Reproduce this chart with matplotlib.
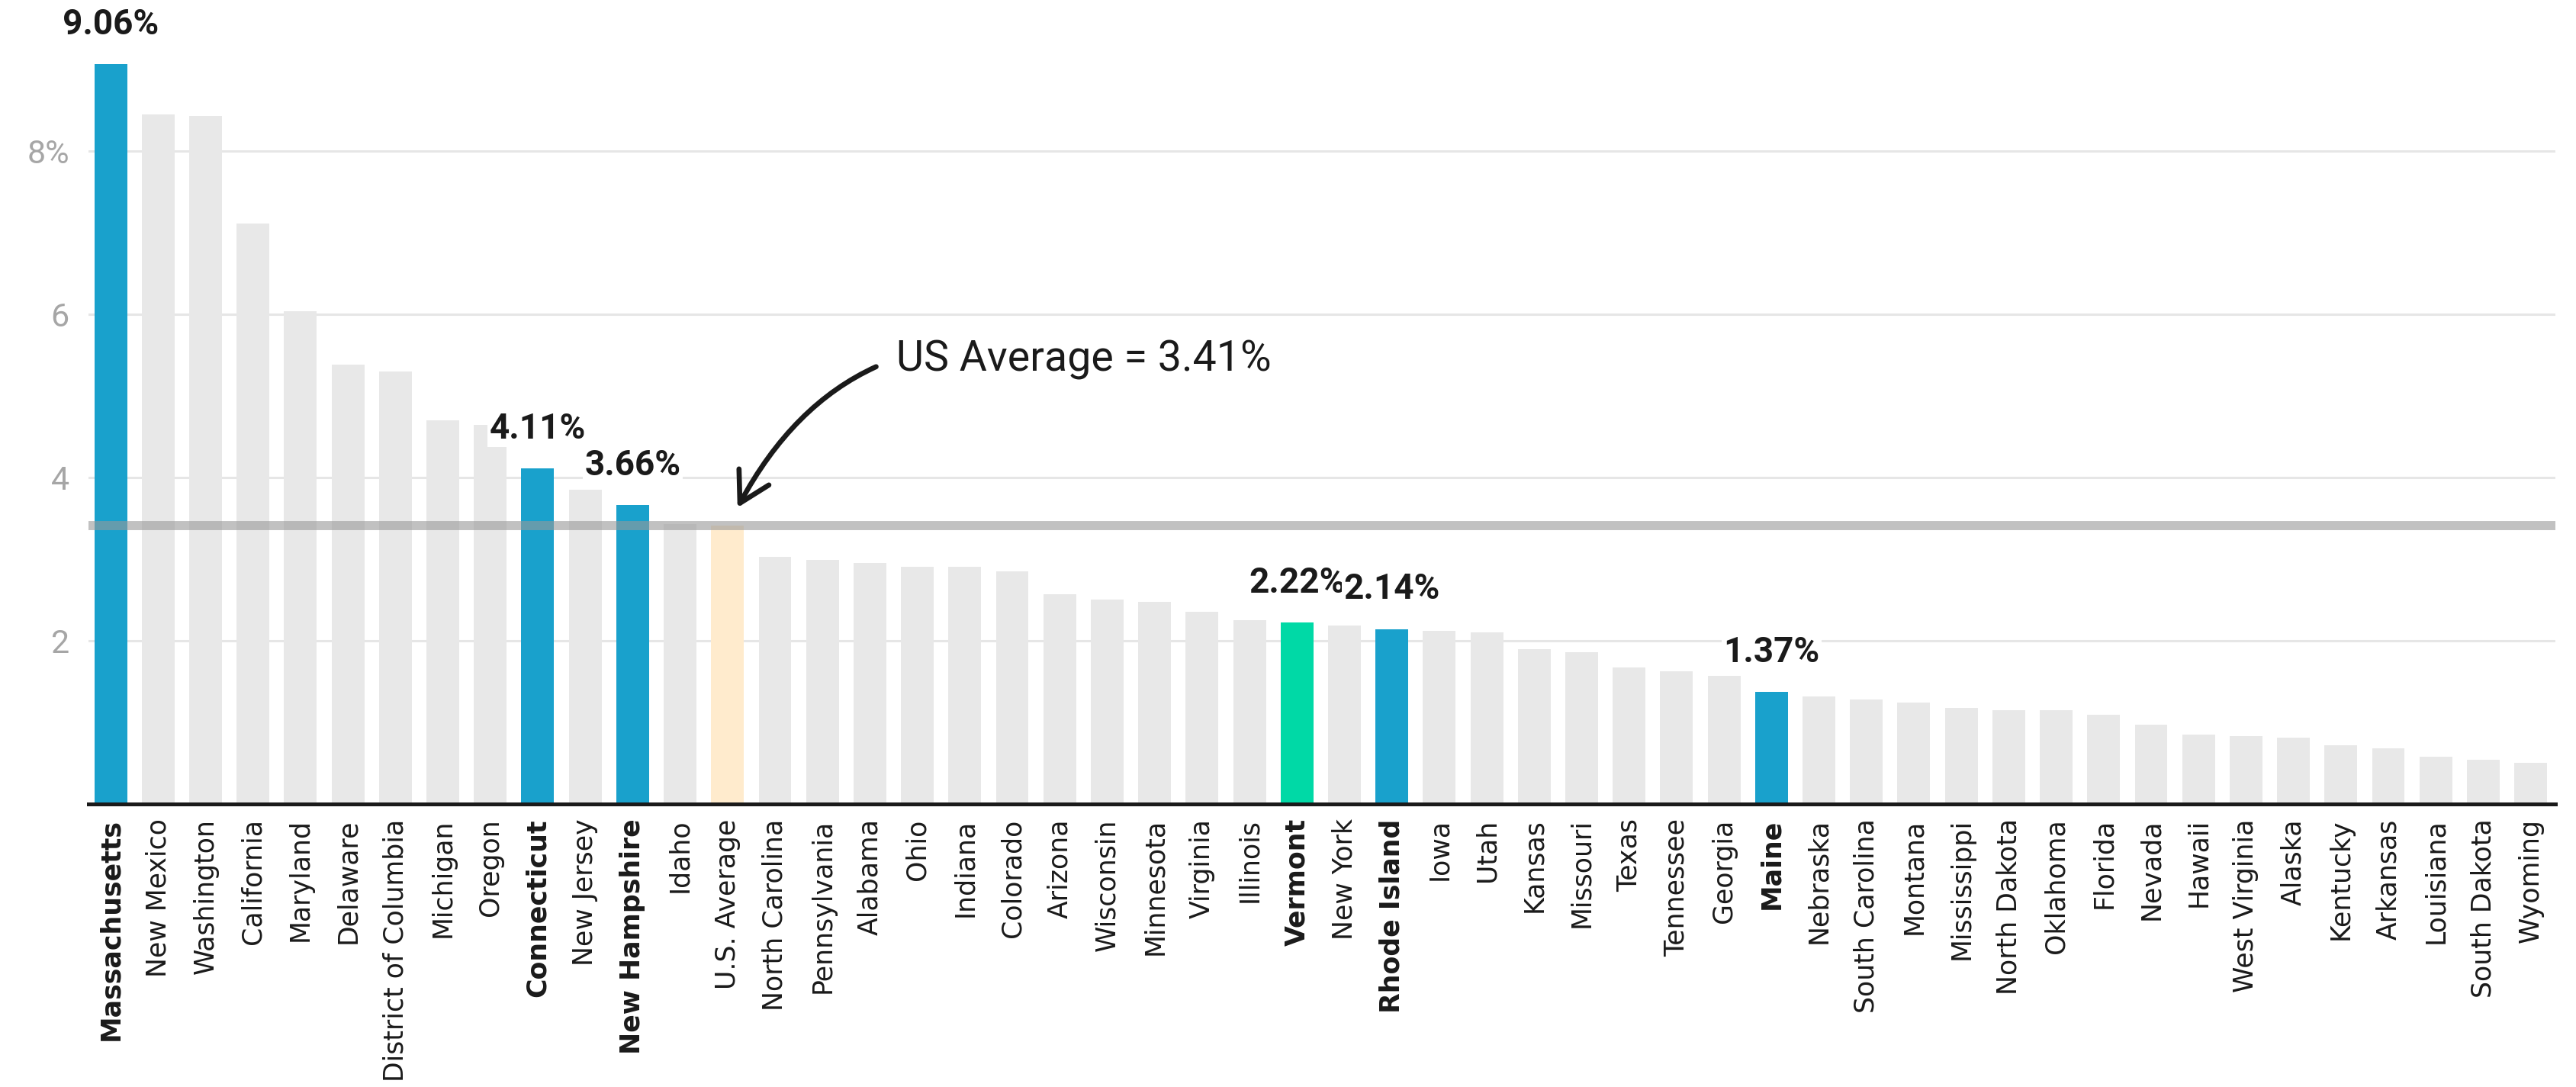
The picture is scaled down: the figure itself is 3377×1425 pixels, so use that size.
import numpy as np
import matplotlib.pyplot as plt

plt.rcParams['font.family'] = 'DejaVu Sans'

# Data
states = ['Massachusetts', 'New Mexico', 'Washington', 'California', 'Maryland',
          'Delaware', 'District of Columbia', 'Michigan', 'Oregon', 'Connecticut',
          'New Jersey', 'New Hampshire', 'Idaho', 'U.S. Average', 'North Carolina',
          'Pennsylvania', 'Alabama', 'Ohio', 'Indiana', 'Colorado', 'Arizona',
          'Wisconsin', 'Minnesota', 'Virginia', 'Illinois', 'Vermont', 'New York',
          'Rhode Island', 'Iowa', 'Utah', 'Kansas', 'Missouri', 'Texas', 'Tennessee',
          'Georgia', 'Maine', 'Nebraska', 'South Carolina', 'Montana', 'Mississippi',
          'North Dakota', 'Oklahoma', 'Florida', 'Nevada', 'Hawaii', 'West Virginia',
          'Alaska', 'Kentucky', 'Arkansas', 'Louisiana', 'South Dakota', 'Wyoming']
values = [9.06, 8.45, 8.43, 7.11, 6.04,
          5.38, 5.30, 4.70, 4.64, 4.11,
          3.85, 3.66, 3.43, 3.41, 3.03,
          2.99, 2.95, 2.91, 2.91, 2.85, 2.57,
          2.50, 2.48, 2.35, 2.25, 2.22, 2.19,
          2.14, 2.12, 2.10, 1.90, 1.86, 1.67, 1.63,
          1.57, 1.37, 1.32, 1.28, 1.24, 1.18,
          1.15, 1.15, 1.09, 0.97, 0.85, 0.83,
          0.81, 0.72, 0.68, 0.58, 0.54, 0.50]
us_average = 3.41
new_england = ['Massachusetts', 'Connecticut', 'New Hampshire', 'Rhode Island', 'Maine']
vermont = 'Vermont'
labeled = ['Massachusetts', 'Connecticut', 'New Hampshire', 'Vermont', 'Rhode Island', 'Maine']

# Colors
BLUE = '#19a1cc'
GREEN = '#00d9a6'
GREY = '#e8e8e8'
PEACH = '#ffebcd'

colors = []
for s in states:
    if s in new_england:
        colors.append(BLUE)
    elif s == vermont:
        colors.append(GREEN)
    elif s == 'U.S. Average':
        colors.append(PEACH)
    else:
        colors.append(GREY)

fig = plt.figure(figsize=(16.885, 7.125), dpi=200)
ax = fig.add_axes([0.0343, 0.2604, 0.9577, 0.7359])

x = np.arange(len(states))
ax.bar(x, values, width=0.69, color=colors, zorder=2)

# US average line
ax.axhline(us_average, color='#999999', alpha=0.6, lw=4.3, zorder=3)

# Value labels
for i, (s, v) in enumerate(zip(states, values)):
    if s in labeled:
        ax.annotate(f'{v:.2f}%', xy=(i, v), xytext=(0, 11), textcoords='offset points',
                    ha='center', va='bottom', fontsize=16.5, fontweight='bold',
                    family='Roboto', color='#1a1a1a', zorder=5, annotation_clip=False,
                    bbox=dict(boxstyle='square,pad=0.05', fc='white', ec='none'))

# Annotation for US average
ax.annotate('US Average = 3.41%', xy=(13.21, 3.63), xytext=(16.55, 5.30),
            fontsize=20, family='Roboto', color='#1a1a1a', ha='left', va='baseline',
            arrowprops=dict(arrowstyle='->,head_length=0.7,head_width=0.4',
                            color='#1a1a1a', lw=2.4,
                            connectionstyle='arc3,rad=0.4',
                            shrinkA=8, shrinkB=0),
            zorder=6)

# Axes styling
ax.set_xlim(-0.47, len(states) - 0.48)
ax.set_ylim(0, 9.8)
ax.set_yticks([2, 4, 6, 8])
ax.set_yticklabels(['2', '4', '6', '8%'], family='Roboto', fontsize=15.5, color='#a6a6a6')
ax.yaxis.grid(True, color='#e6e6e6', lw=1.1, zorder=0)
ax.set_axisbelow(True)
ax.tick_params(axis='y', length=0, pad=9)
ax.tick_params(axis='x', length=0, pad=7)

ax.set_xticks(x)
ax.set_xticklabels(states, rotation=90, fontsize=12.5, color='#1a1a1a')
for lbl in ax.get_xticklabels():
    if lbl.get_text() in labeled:
        lbl.set_fontweight('bold')

for side in ['top', 'right', 'left']:
    ax.spines[side].set_visible(False)
ax.spines['bottom'].set_color('#1a1a1a')
ax.spines['bottom'].set_linewidth(1.8)
ax.spines['bottom'].set_zorder(4)

plt.savefig('out.png', dpi=200)
